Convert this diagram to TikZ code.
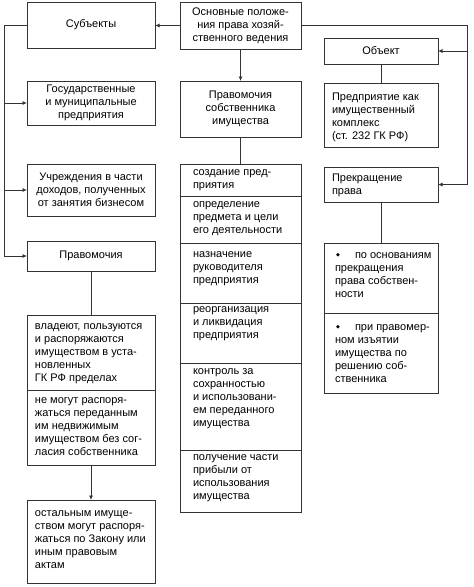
\documentclass[tikz,border=0pt]{standalone}
\usepackage{fontspec}
\setmainfont{Liberation Sans}
\newfontfamily\symfont{DejaVu Sans}
\usetikzlibrary{arrows.meta,positioning}

\newcommand\txtfont{\fontsize{11}{13}\selectfont}
\newcommand\dia{\makebox[20pt][l]{\hspace{1pt}\raisebox{1.2pt}{\symfont\fontsize{5}{5}\selectfont ◆}}}
% Zelle: [Abstand oben]{Breite}{Hoehe}{Einzug}{Text}
\newcommand\cellbox[5][2pt]{\parbox[t][#3][t]{#2}{\leftskip=#4\relax\rightskip=-30pt plus 1fil\relax\parfillskip=0pt plus 1fil\relax\parindent=0pt\vspace*{#1}\strut#5}}

\begin{document}
\begin{tikzpicture}[x=1pt,y=-1pt,
  box/.style={draw=black!80,line width=0.8pt,inner sep=0pt,outer sep=0pt,anchor=north west,align=center,font=\txtfont},
  arr/.style={draw=black!80,line width=0.8pt,-{Latex[length=4.5pt,width=4pt]}},
  con/.style={draw=black!80,line width=0.8pt}]
\useasboundingbox (0,0) rectangle (474,587);
%Oben
\node[box,minimum width=121,minimum height=47] (main) at (180,2) {Основные положе-\\ния права хозяй-\\ственного ведения};
\node[box,minimum width=128,minimum height=46] (subj) at (27,2) {Субъекты};
\node[box,minimum width=114,minimum height=26] (obj) at (324,38) {Объект};
%Links
\node[box,minimum width=128,minimum height=44] (gos) at (27,81) {Государственные\\и муниципальные\\предприятия};
\node[box,minimum width=128,minimum height=52] (uchr) at (27,164) {Учреждения в части\\доходов, полученных\\от занятия бизнесом};
\node[box,minimum width=128,minimum height=30] (prav) at (27,241) {Правомочия};
\node[box] (l1) at (27,315) {\cellbox[5pt]{128pt}{75pt}{8pt}{владеют, пользуются\\и распоряжаются\\имуществом в уста-\\новленных\\ГК РФ пределах}};
\node[box] (l2) at (l1.south west) {\cellbox[4pt]{128pt}{75pt}{8pt}{не могут распоря-\\жаться переданным\\им недвижимым\\имуществом без сог-\\ласия собственника}};
\node[box] (rest) at (27,500) {\cellbox[7pt]{128pt}{83pt}{8pt}{остальным имуще-\\ством могут распоря-\\жаться по Закону или\\иным правовым\\актам}};
%Mitte
\node[box,minimum width=121,minimum height=56] (pravsob) at (180,81) {Правомочия\\собственника\\имущества};
\node[box] (c1) at (180,164) {\cellbox{121pt}{32pt}{13pt}{создание пред-\\приятия}};
\node[box] (c2) at (c1.south west) {\cellbox{121pt}{47pt}{13pt}{определение\\предмета и цели\\его деятельности}};
\node[box] (c3) at (c2.south west) {\cellbox[5pt]{121pt}{60pt}{13pt}{назначение\\руководителя\\предприятия}};
\node[box] (c4) at (c3.south west) {\cellbox[0pt]{121pt}{60pt}{13pt}{реорганизация\\и ликвидация\\предприятия}};
\node[box] (c5) at (c4.south west) {\cellbox{121pt}{87pt}{13pt}{контроль за\\сохранностью\\и использовани-\\ем переданного\\имущества}};
\node[box] (c6) at (c5.south west) {\cellbox[1pt]{121pt}{62pt}{13pt}{получение части\\прибыли от\\использования\\имущества}};
%Rechts
\node[box] (pred) at (324,83) {\cellbox[8pt]{114pt}{64pt}{8pt}{Предприятие как\\имущественный\\комплекс\\(ст. 232 ГК РФ)}};
\node[box] (prek) at (324,167) {\cellbox[5pt]{114pt}{35pt}{8pt}{Прекращение\\права}};
\node[box] (r1) at (324,243) {\cellbox[6pt]{114pt}{70pt}{11pt}{\dia по основаниям\\прекращения\\права собствен-\\ности}};
\node[box] (r2) at (r1.south west) {\cellbox[8pt]{114pt}{80pt}{11pt}{\dia при правомер-\\ном изъятии\\имущества по\\решению соб-\\ственника}};
%Verbindungen
\coordinate (spine) at (4,0);
\coordinate (rspine) at (467,0);
\draw[arr] (main.west) -- (main.west -| subj.east);
\draw[arr] (subj.west) -| (spine |- prav.west) -- (prav.west);
\draw[arr] (spine |- gos.west) -- (gos.west);
\draw[arr] (spine |- uchr.west) -- (uchr.west);
\draw[arr] (main.south) -- (pravsob.north);
\draw[con] (pravsob.south) -- (c1.north);
\draw[arr] (main.east) -| (rspine |- prek.east) -- (prek.east);
\draw[arr] (rspine |- obj.east) -- (obj.east);
\draw[con] (obj.south) -- (pred.north);
\draw[con] (prek.south) -- (r1.north);
\draw[con] (prav.south) -- (l1.north);
\draw[arr] (l2.south) -- (rest.north);
\end{tikzpicture}
\end{document}
